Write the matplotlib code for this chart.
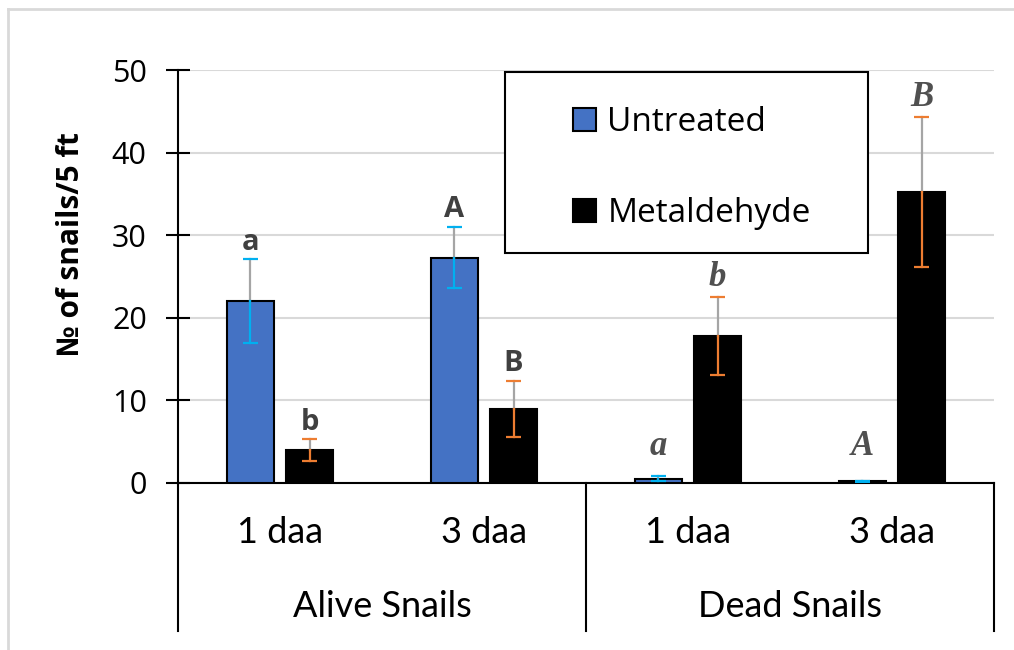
import numpy as np
import matplotlib
matplotlib.use("Agg")
from matplotlib import pyplot as plt
from matplotlib.patches import Patch, Rectangle
from matplotlib.lines import Line2D

# data
groups = ["Alive Snails", "Dead Snails"]
days = ["1 daa", "3 daa", "1 daa", "3 daa"]
untreated = [22.0, 27.3, 0.5, 0.2]
untreated_err = [5.1, 3.7, 0.3, 0.1]
metaldehyde = [4.0, 9.0, 17.8, 35.2]
metaldehyde_err = [1.3, 3.4, 4.7, 9.1]
untreated_letters = ["a", "A", "a", "A"]
metaldehyde_letters = ["b", "B", "b", "B"]

blue = "#4472C4"
cyan = "#00B0F0"
orange = "#ED7D31"
gray_err = "#A5A5A5"
letter_col = "#404040"

fig = plt.figure(figsize=(10.14, 6.5), dpi=100)
ax = fig.add_axes([178 / 1014, 1 - 483 / 650, (994 - 178) / 1014, (483 - 70) / 650])

x = np.arange(len(days))
w = 0.23
off = 0.145

ax.bar(x - off, untreated, w, color=blue, edgecolor="black", linewidth=1.5, zorder=3)
ax.bar(x + off, metaldehyde, w, color="black", edgecolor="black", linewidth=1.5, zorder=3)


def draw_err(xs, vals, errs, col):
    for xi, v, e in zip(xs, vals, errs):
        # upper half grey, lower half coloured, caps coloured
        ax.plot([xi, xi], [v, v + e], color=gray_err, lw=1.6, zorder=4)
        ax.plot([xi, xi], [v - e, v], color=col, lw=1.6, zorder=4)
        for yy in (v + e, v - e):
            ax.plot([xi - 0.035, xi + 0.035], [yy, yy], color=col, lw=1.6, zorder=4,
                    solid_capstyle="butt")


draw_err(x - off, untreated, untreated_err, cyan)
draw_err(x + off, metaldehyde, metaldehyde_err, orange)

# significance letters
for i in range(len(days)):
    for xi, v, e, lab in ((x[i] - off, untreated[i], untreated_err[i], untreated_letters[i]),
                          (x[i] + off, metaldehyde[i], metaldehyde_err[i], metaldehyde_letters[i])):
        if i < 2:
            ax.text(xi, v + e + 0.3, lab, ha="center", va="bottom", fontsize=21,
                    fontweight="bold", family="Open Sans", color=letter_col, zorder=5)
        else:
            ax.text(xi, max(v + e, 2.0) + 0.4, lab, ha="center", va="bottom", fontsize=25,
                    fontweight="bold", fontstyle="italic", family="Liberation Serif",
                    color="#505050", zorder=5)

ax.set_xlim(-0.5, 3.5)
ax.set_ylim(0, 50)
ax.set_yticks(np.arange(0, 51, 10))
ax.yaxis.grid(True, color="#D9D9D9", lw=1.5, zorder=0)
ax.set_axisbelow(True)
ax.tick_params(axis="y", direction="inout", length=17, width=1.5, labelsize=22, pad=14)
for lab in ax.get_yticklabels():
    lab.set_family("Open Sans")
ax.set_xticks([])
for s in ("top", "right"):
    ax.spines[s].set_visible(False)
ax.spines["left"].set_linewidth(1.5)
ax.spines["bottom"].set_linewidth(1.5)

# category axis: separators and labels
ytrans = ax.get_xaxis_transform()
for xs in (-0.5, 1.5, 3.5):
    ax.add_line(Line2D([xs, xs], [0, -0.358], transform=ytrans, color="black", lw=1.5,
                       clip_on=False))
for i, d in enumerate(days):
    ax.text(x[i], -0.121, d, transform=ytrans, ha="center", va="center", fontsize=26,
            family="Lato")
for j, g in enumerate(groups):
    ax.text(0.5 + 2 * j, -0.300, g, transform=ytrans, ha="center", va="center",
            fontsize=26, family="Lato")

fig.text(71 / 1014, 1 - 244 / 650, "№ of snails/5 ft", rotation=90, ha="center",
         va="center", fontsize=21.5, fontweight="bold", family="Open Sans")

# legend: box drawn separately so padding can differ per side
ax.add_patch(Rectangle((505 / 1014, 1 - 253 / 650), 363 / 1014, 181 / 650,
                       transform=fig.transFigure, facecolor="white", edgecolor="black",
                       lw=1.5, zorder=6, clip_on=False))
handles = [Patch(facecolor=blue, edgecolor="black", lw=1.5),
           Patch(facecolor="black", edgecolor="black", lw=1.5)]
leg = ax.legend(handles, ["Untreated", "Metaldehyde"], loc="center left",
                bbox_to_anchor=(573 / 1014, 1 - 168 / 650), bbox_transform=fig.transFigure,
                frameon=False, prop={"family": "Open Sans", "size": 24},
                handlelength=0.7, handleheight=0.7, handletextpad=0.33,
                borderpad=0, borderaxespad=0, labelspacing=1.75)
leg.set_zorder(7)

# outer chart-area border (only top and left visible in reference)
fig.add_artist(Line2D([8 / 1014, 8 / 1014], [0, 1 - 9 / 650], transform=fig.transFigure,
                      color="#D9D9D9", lw=2))
fig.add_artist(Line2D([8 / 1014, 1], [1 - 9 / 650, 1 - 9 / 650], transform=fig.transFigure,
                      color="#D9D9D9", lw=2))

plt.savefig("out.png", dpi=100)
